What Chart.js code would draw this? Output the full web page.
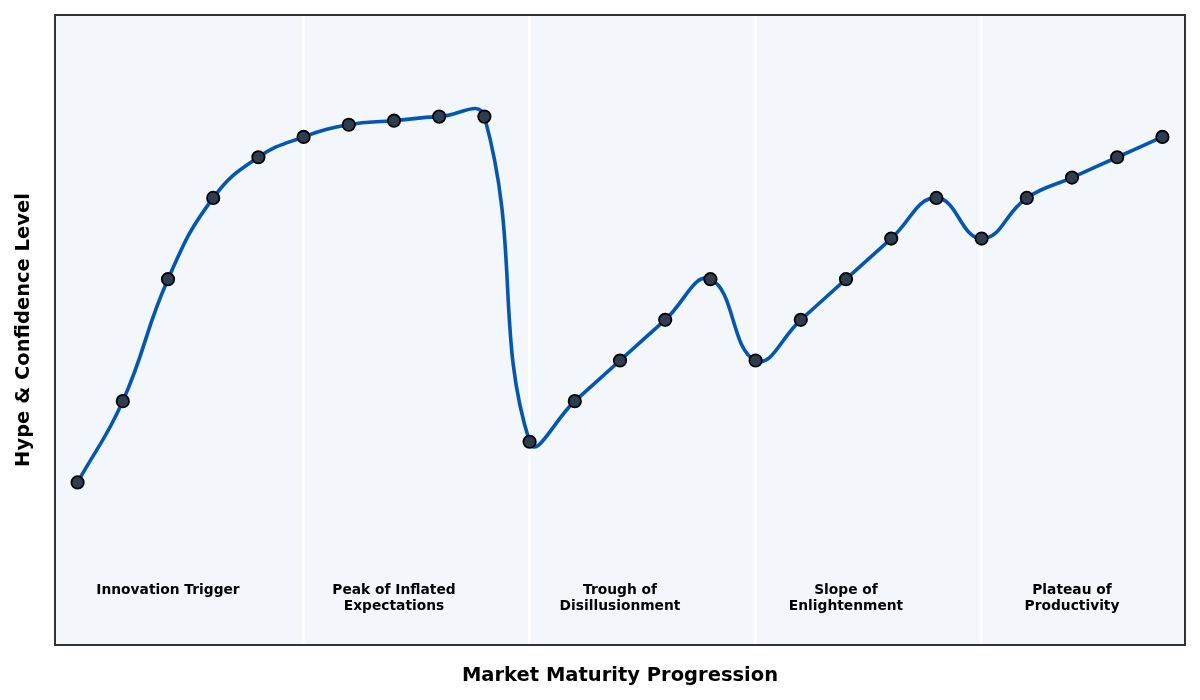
<!DOCTYPE html>
<html>
<head>
<meta charset="utf-8">
<script src="https://cdn.jsdelivr.net/npm/chart.js@4/dist/chart.umd.min.js"></script>
<style>
  html, body { margin: 0; padding: 0; background: #ffffff; }
  #wrap { width: 1200px; height: 700px; }
</style>
</head>
<body>
<div id="wrap"><canvas id="chartCanvas" width="1200" height="700"></canvas></div>
<script>
// data
const steps = [0, 1, 2, 3, 4, 5, 6, 7, 8, 9, 10, 11, 12, 13, 14, 15, 16, 17, 18, 19, 20, 21, 22, 23, 24];
const hype = [20, 40, 70, 90, 100, 105, 108, 109, 110, 110, 30, 40, 50, 60, 70, 50, 60, 70, 80, 90, 80, 90, 95, 100, 105];
const phaseNames = [
    ['Innovation Trigger'],
    ['Peak of Inflated', 'Expectations'],
    ['Trough of', 'Disillusionment'],
    ['Slope of', 'Enlightenment'],
    ['Plateau of', 'Productivity']
];
const phaseCenters = [2, 7, 12, 17, 22];
const phaseDividers = [5, 10, 15, 20];
const phaseLabelY = -5;

const FONT = "'DejaVu Sans', sans-serif";

const panelPlugin = {
    id: 'panel',
    beforeDraw(chart) {
        const { ctx, chartArea: a } = chart;
        ctx.save();
        ctx.fillStyle = '#f3f6fa';
        ctx.fillRect(a.left, a.top, a.right - a.left, a.bottom - a.top);
        ctx.restore();
    },
    afterDatasetsDraw(chart) {
        const { ctx, chartArea: a, scales } = chart;
        ctx.save();
        ctx.fillStyle = '#000000';
        ctx.font = `bold 13.8px ${FONT}`;
        ctx.textAlign = 'center';
        ctx.textBaseline = 'middle';
        phaseNames.forEach((lines, i) => {
            const px = scales.x.getPixelForValue(phaseCenters[i]);
            const py = scales.y.getPixelForValue(phaseLabelY) + 6;
            lines.forEach((line, j) => ctx.fillText(line, px, py + j * 16));
        });
        ctx.strokeStyle = '#333333';
        ctx.lineWidth = 2;
        ctx.strokeRect(a.left, a.top, a.right - a.left, a.bottom - a.top);
        ctx.restore();
    }
};

new Chart(document.getElementById('chartCanvas'), {
    type: 'line',
    data: {
        datasets: [{
            data: steps.map((s, i) => ({ x: s, y: hype[i] })),
            borderColor: '#0057b8',
            borderWidth: 3.6,
            tension: 0.45,
            pointRadius: 6.2,
            pointHoverRadius: 6.2,
            pointBackgroundColor: '#2c3e50',
            pointBorderColor: '#000000',
            pointBorderWidth: 1.8,
            fill: false
        }]
    },
    options: {
        responsive: false,
        animation: false,
        devicePixelRatio: 1,
        layout: { padding: { top: 15, right: 15, left: 0, bottom: 0 } },
        plugins: { legend: { display: false }, tooltip: { enabled: false } },
        scales: {
            x: {
                type: 'linear',
                min: -0.5,
                max: 24.5,
                afterBuildTicks: scale => { scale.ticks = phaseDividers.map(v => ({ value: v })); },
                afterFit: scale => { scale.height = 55; },
                ticks: { display: false },
                border: { display: false },
                grid: { color: '#ffffff', lineWidth: 2.5, drawTicks: false },
                title: {
                    display: true,
                    text: 'Market Maturity Progression',
                    color: '#000000',
                    font: { family: FONT, size: 19.5, weight: 'bold' },
                    padding: { top: 0, bottom: 12 }
                }
            },
            y: {
                min: -20,
                max: 135,
                afterFit: scale => { scale.width = 55; },
                ticks: { display: false },
                border: { display: false },
                grid: { display: false },
                title: {
                    display: true,
                    text: 'Hype & Confidence Level',
                    color: '#000000',
                    font: { family: FONT, size: 19.5, weight: 'bold' },
                    padding: { top: 12, bottom: 0 }
                }
            }
        }
    },
    plugins: [panelPlugin]
});
</script>
</body>
</html>
